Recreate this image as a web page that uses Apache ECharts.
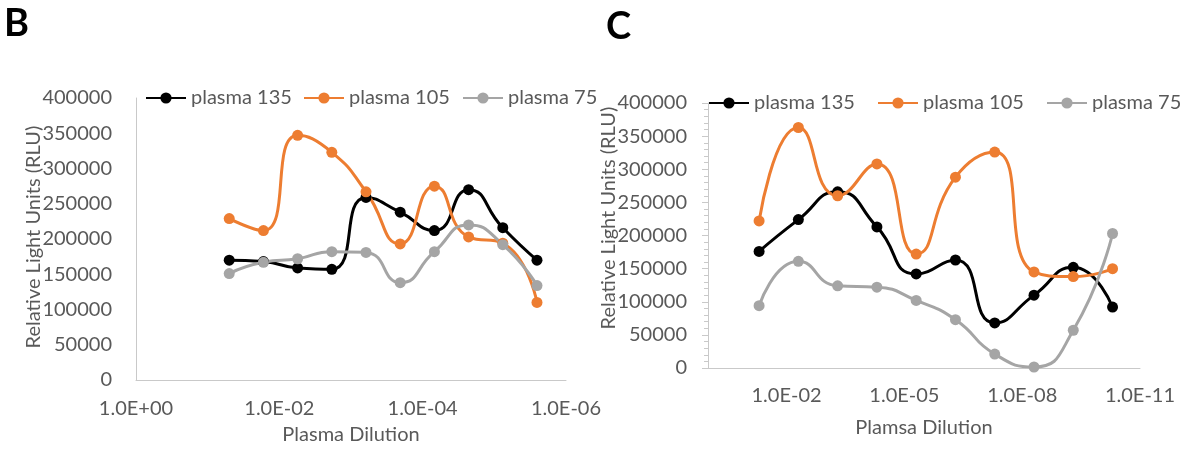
<!DOCTYPE html>
<html>
<head>
<meta charset="utf-8">
<script src="https://cdn.jsdelivr.net/npm/echarts@6/dist/echarts.min.js"></script>
<style>
html,body{margin:0;padding:0;background:#fff;}
#chart{width:1185px;height:450px;}
</style>
</head>
<body>
<div id="chart"></div>
<script>
// ---- Data ----
const seriesNames = ['plasma 135', 'plasma 105', 'plasma 75'];

// Panel B: dilutions (1:20 then 3-fold)
const dilutionB = [0.05, 0.016667, 0.0055556, 0.0018519, 0.00061728, 0.00020576, 0.000068587, 0.000022862, 0.0000076208, 0.0000025403];
const plasma135B = [170000, 168000, 159000, 157000, 259000, 238000, 212000, 270000, 216000, 170000];
const plasma105B = [229000, 212000, 347000, 323000, 267000, 193000, 275000, 203000, 194000, 110000];
const plasma75B  = [151000, 167000, 172000, 182000, 181000, 138000, 182000, 220000, 192000, 134000];
const xTicksB = [1, 1e-2, 1e-4, 1e-6];

// Panel C: dilutions (1:20 then 10-fold)
const dilutionC = [0.05, 0.005, 0.0005, 0.00005, 0.000005, 5e-7, 5e-8, 5e-9, 5e-10, 5e-11];
const plasma135C = [176000, 224000, 266000, 213000, 142000, 163000, 68000, 110000, 152000, 92000];
const plasma105C = [222000, 363000, 260000, 308000, 172000, 288000, 326000, 145000, 138000, 150000];
const plasma75C  = [94000, 161000, 124000, 122000, 102000, 73000, 21000, 1500, 57000, 203000];
const xTicksC = [1e-2, 1e-5, 1e-8, 1e-11];

const colors = ['#000000', '#ED7D31', '#A5A5A5'];
const FONT = 'Lato';
const FS = 20;
const TXT = '#595959';
const AXIS = '#C9C9C9';

function sciLabel(v) {
  const e = Math.round(Math.log10(v));
  return '1.0E' + (e < 0 ? '-' : '+') + String(Math.abs(e)).padStart(2, '0');
}
function plain(v) { return String(v); }
function pairs(xs, ys) { return xs.map((x, i) => [x, ys[i]]); }

const chart = echarts.init(document.getElementById('chart'), null, {renderer: 'canvas'});

function mkSeries(name, xs, ys, idx, color) {
  return {
    name: name, type: 'line', xAxisIndex: idx, yAxisIndex: idx,
    data: pairs(xs, ys), smooth: 0.55,
    symbol: 'circle', symbolSize: 11,
    itemStyle: {color: color},
    lineStyle: {color: color, width: 3},
    emphasis: {disabled: true}, animation: false
  };
}

function mkLegend(name, left, top) {
  return {
    data: [name], left: left, top: top, padding: 0,
    itemWidth: 40, itemHeight: 14, selectedMode: false,
    textStyle: {fontFamily: FONT, fontSize: FS, color: TXT, lineHeight: 24}
  };
}

const option = {
  animation: false,
  backgroundColor: '#ffffff',
  legend: [
    mkLegend(seriesNames[0], 145, 86), mkLegend(seriesNames[1], 303, 86), mkLegend(seriesNames[2], 462, 86),
    mkLegend(seriesNames[0], 708, 91), mkLegend(seriesNames[1], 877, 91), mkLegend(seriesNames[2], 1046, 91)
  ],
  grid: [
    {left: 136, right: 619, top: 98, bottom: 63},
    {left: 708, right: 45, top: 103, bottom: 82}
  ],
  xAxis: [
    {
      type: 'log', gridIndex: 0, logBase: 10, min: 1e-6, max: 1, inverse: true,
      name: 'Plasma Dilution', nameLocation: 'middle', nameGap: 45,
      nameTextStyle: {fontFamily: FONT, fontSize: FS, color: TXT},
      axisLine: {show: true, lineStyle: {color: AXIS, width: 1}},
      axisTick: {show: false}, splitLine: {show: false}, minorTick: {show: false},
      axisLabel: {customValues: xTicksB, formatter: sciLabel, margin: 19,
        fontFamily: FONT, fontSize: FS, color: TXT}
    },
    {
      type: 'log', gridIndex: 1, logBase: 10, min: 1e-11, max: 1, inverse: true,
      name: 'Plamsa Dilution', nameLocation: 'middle', nameGap: 50,
      nameTextStyle: {fontFamily: FONT, fontSize: FS, color: TXT},
      axisLine: {show: true, lineStyle: {color: AXIS, width: 1}},
      axisTick: {show: false}, splitLine: {show: false}, minorTick: {show: false},
      axisLabel: {customValues: xTicksC, formatter: sciLabel, margin: 18,
        fontFamily: FONT, fontSize: FS, color: TXT}
    }
  ],
  yAxis: [
    {
      type: 'value', gridIndex: 0, min: 0, max: 400000, interval: 50000,
      axisLine: {show: true, lineStyle: {color: AXIS, width: 1}},
      axisTick: {show: false}, splitLine: {show: false},
      axisLabel: {margin: 24, formatter: plain, fontFamily: FONT, fontSize: FS, color: TXT}
    },
    {
      type: 'value', gridIndex: 1, min: 0, max: 400000, interval: 50000,
      axisLine: {show: true, lineStyle: {color: AXIS, width: 1}},
      axisTick: {show: true, length: 6, lineStyle: {color: AXIS}},
      minorTick: {show: true, splitNumber: 5, length: 4, lineStyle: {color: AXIS}},
      splitLine: {show: false},
      axisLabel: {margin: 21, formatter: plain, fontFamily: FONT, fontSize: FS, color: TXT}
    }
  ],
  graphic: [
    {type: 'text', left: 4, top: 5, style: {text: 'B', fontFamily: FONT, fontWeight: 'bold', fontSize: 38, fill: '#000'}},
    {type: 'text', left: 606, top: 8, style: {text: 'C', fontFamily: FONT, fontWeight: 'bold', fontSize: 38, fill: '#000'}},
    {type: 'text', x: 34, y: 237, rotation: Math.PI / 2,
      style: {text: 'Relative Light Units (RLU)', fontFamily: FONT, fontSize: FS, fill: TXT, align: 'center', verticalAlign: 'middle'}},
    {type: 'text', x: 609, y: 218, rotation: Math.PI / 2,
      style: {text: 'Relative Light Units (RLU)', fontFamily: FONT, fontSize: FS, fill: TXT, align: 'center', verticalAlign: 'middle'}}
  ],
  series: [
    mkSeries(seriesNames[0], dilutionB, plasma135B, 0, colors[0]),
    mkSeries(seriesNames[1], dilutionB, plasma105B, 0, colors[1]),
    mkSeries(seriesNames[2], dilutionB, plasma75B, 0, colors[2]),
    mkSeries(seriesNames[0], dilutionC, plasma135C, 1, colors[0]),
    mkSeries(seriesNames[1], dilutionC, plasma105C, 1, colors[1]),
    mkSeries(seriesNames[2], dilutionC, plasma75C, 1, colors[2])
  ]
};
chart.setOption(option);
</script>
</body>
</html>
